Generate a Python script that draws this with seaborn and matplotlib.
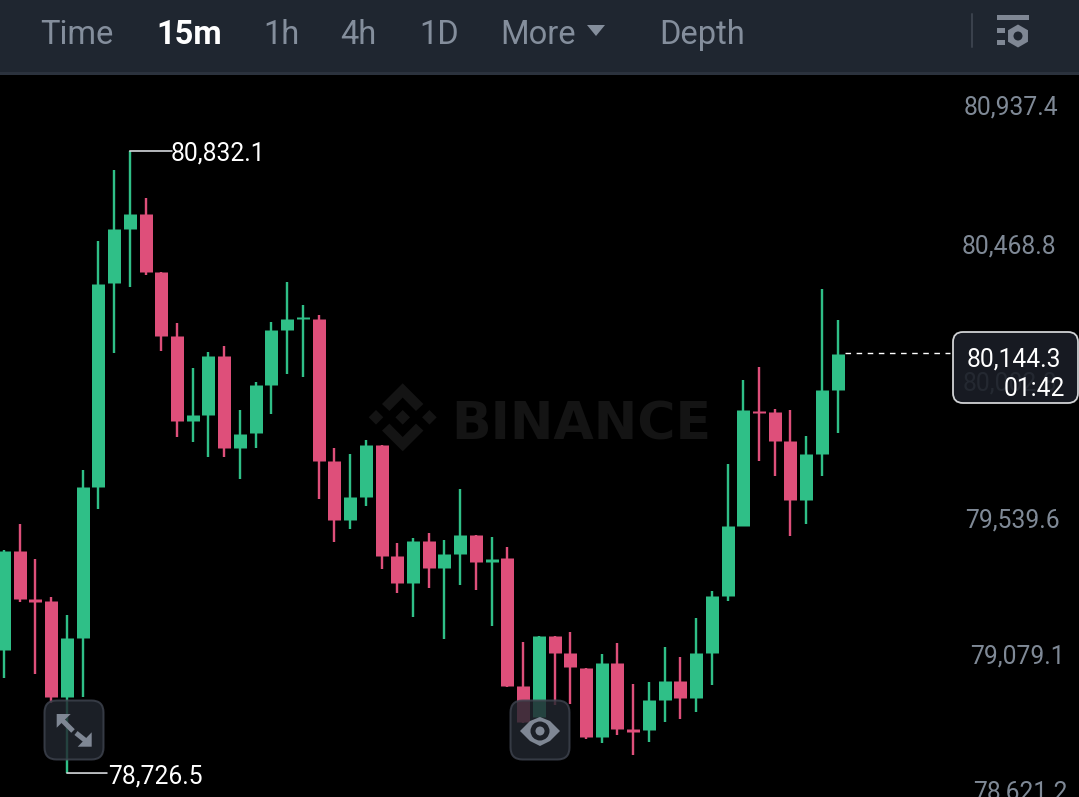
import numpy as np
import pandas as pd
import seaborn as sns
import matplotlib.pyplot as plt
from matplotlib.patches import FancyBboxPatch, Polygon, Rectangle, Circle, RegularPolygon

# ====================== data ======================
opens = [79144, 79479, 79315, 79308, 78983, 79184, 79694, 80384, 80567, 80618,
         80423, 80206, 79919, 79939, 80138, 79826, 79876, 80040, 80226, 80264,
         80264, 79784, 79583, 79660, 79837, 79461, 79371, 79512, 79420, 79467,
         79533, 79441, 79453, 79021, 78917, 79191, 79134, 79082, 78849, 79098,
         78875, 78873, 78974, 79038, 78981, 79133, 79327, 79564, 79953, 79948,
         79850, 79651, 79806, 80023]
closes = [79479, 79316, 79306, 78985, 79184, 79694, 80382, 80567, 80618, 80423,
          80206, 79919, 79939, 80138, 79826, 79875, 80040, 80226, 80262, 80271,
          79784, 79583, 79660, 79837, 79461, 79371, 79512, 79420, 79467, 79533,
          79440, 79452, 79021, 78900, 79191, 79134, 79084, 78849, 79098, 78875,
          78866, 78974, 79038, 78981, 79133, 79327, 79564, 79955, 79946, 79850,
          79651, 79806, 80023, 80144.3]
highs = [79482, 79570, 79452, 79323, 79261, 79752, 80527, 80768, 80832.1, 80672,
         80423, 80251, 80098, 80153, 80173, 79955, 80051, 80254, 80388, 80311,
         80277, 79826, 79806, 79854, 79837, 79504, 79521, 79540, 79514, 79687,
         79533, 79526, 79492, 79170, 79191, 79191, 79203, 79082, 79128, 79166,
         79029, 79034, 79153, 79118, 79250, 79343, 79773, 80057, 80100, 79958,
         79955, 79868, 80365, 80260]
lows = [79049, 79305, 79062, 78964, 78726.5, 78985, 79620, 80147, 80373, 80413,
        80155, 79863, 79848, 79795, 79797, 79721, 79828, 79942, 80077, 80066,
        79655, 79509, 79553, 79630, 79417, 79335, 79255, 79354, 79181, 79362,
        79347, 79224, 79018, 78896, 78900, 78957, 78960, 78843, 78829, 78856,
        78788, 78832, 78898, 78909, 78933, 79023, 79310, 79564, 79784, 79732,
        79530, 79570, 79732, 79876]
axis_prices = [80937.4, 80468.8, 80002.8, 79539.6, 79079.1, 78621.2]
axis_labels = ["80,937.4", "80,468.8", "80,002.8", "79,539.6", "79,079.1", "78,621.2"]
tabs = ["Time", "15m", "1h", "4h", "1D", "More", "Depth"]
last_price = "80,144.3"
countdown = "01:42"

# ====================== style ======================
GREEN = "#2FBF87"
RED = "#DE4F7A"
GREY = "#848E9C"
TOOLBAR = "#1F2630"
LABEL_SIZE = 17.7

sns.set_theme(style="dark", rc={"axes.facecolor": "black", "figure.facecolor": "black"})
plt.rcParams["font.family"] = ["Roboto", "DejaVu Sans"]

df = pd.DataFrame({"i": np.arange(len(opens)), "open": opens, "close": closes,
                   "high": highs, "low": lows})
df["side"] = np.where(df["close"] >= df["open"], "up", "down")
wicks = df.melt(id_vars=["i", "side"], value_vars=["high", "low"], value_name="price")
bodies = df.melt(id_vars=["i", "side"], value_vars=["open", "close"], value_name="price")

fig = plt.figure(figsize=(10.79, 7.97), dpi=100)
ax = fig.add_axes([0, 0, 1, 1])
px = 0.72  # points per pixel at this dpi
palette = {"up": GREEN, "down": RED}

# watermark sits behind the candles, so the overlay is split in two
back = fig.add_axes([0, 0, 1, 1], zorder=0)
back.set_xlim(0, 1079)
back.set_ylim(797, 0)
back.axis("off")
ax.set_zorder(1)
ax.patch.set_alpha(0)

WM = "#141414"
fig.patch.set_facecolor("black")
back.text(581, 425, "BINANCE", color=WM, fontsize=37.5, fontweight="bold",
          family="DejaVu Sans", ha="center", va="center")
cx, cy = 402.7, 417.3
for dx in (-26.7, 0, 26.7):
    back.add_patch(Polygon([(cx + dx - 7.3, cy), (cx + dx, cy - 7.3),
                            (cx + dx + 7.3, cy), (cx + dx, cy + 7.3)], color=WM, lw=0))
chevron = [(0, 34), (20.7, 13.3), (13.3, 6.3), (0, 19.7), (-13.3, 6.3), (-20.7, 13.3)]
for sign in (-1, 1):
    back.add_patch(Polygon([(cx + a, cy + sign * b) for a, b in chevron], color=WM, lw=0))

# ====================== candles ======================
sns.lineplot(data=wicks, x="i", y="price", hue="side", units="i", estimator=None,
             palette=palette, linewidth=2.4 * px, legend=False, ax=ax,
             solid_capstyle="butt")
sns.lineplot(data=bodies, x="i", y="price", hue="side", units="i", estimator=None,
             palette=palette, linewidth=13 * px, legend=False, ax=ax,
             solid_capstyle="butt")

step = 15.73
ax.set_xlim(-4.0 / step, (1079 - 4.0) / step)
ax.set_ylim(78645.4, 81343.2)
ax.set_xticks([])
ax.set_yticks([])
ax.set_xlabel("")
ax.set_ylabel("")
sns.despine(ax=ax, left=True, bottom=True)

# ====================== axis price labels ======================
label_left = [964, 962, 963, 965, 970, 973]
trans = ax.get_yaxis_transform()
for price, text, left in zip(axis_prices, axis_labels, label_left):
    ax.annotate(text, xy=(left / 1079, price), xycoords=trans, xytext=(0, 12 * px),
                textcoords="offset points", color="#7F8996", fontsize=LABEL_SIZE,
                ha="left", va="center", annotation_clip=False, zorder=1)

# ====================== high / low markers ======================
hi = int(np.argmax(highs))
lo = int(np.argmin(lows))
ax.annotate("", xy=(hi, highs[hi]), xytext=(42 * px, 0), textcoords="offset points", xycoords="data",
            arrowprops=dict(arrowstyle="-", color="#D5D8DC", lw=1.2, shrinkA=0, shrinkB=0), zorder=6)
ax.annotate("80,832.1", xy=(hi, highs[hi]), xytext=(41 * px, -3 * px), textcoords="offset points",
            color="white", fontsize=LABEL_SIZE, va="center", ha="left", zorder=6)
ax.annotate("", xy=(lo, lows[lo]), xytext=(40 * px, 0), textcoords="offset points", xycoords="data",
            arrowprops=dict(arrowstyle="-", color="#D5D8DC", lw=1.2, shrinkA=0, shrinkB=0), zorder=6)
ax.annotate("78,726.5", xy=(lo, lows[lo]), xytext=(41 * px, -3 * px), textcoords="offset points",
            color="white", fontsize=LABEL_SIZE, va="center", ha="left", zorder=6)

# dashed line out to the price box
ax.plot([len(opens) - 1 + 0.45, (950 - 4.0) / step], [closes[-1] + 3, closes[-1] + 3], color="white",
        lw=1, dashes=(4, 4), zorder=3)

# ====================== overlay: toolbar, buttons, price box ======================
top = fig.add_axes([0, 0, 1, 1], zorder=5)
top.set_xlim(0, 1079)
top.set_ylim(797, 0)
top.axis("off")
top.patch.set_alpha(0)

top.add_patch(Rectangle((0, 0), 1079, 72, color=TOOLBAR, lw=0))
top.add_patch(Rectangle((0, 72), 1079, 3, color="#2B323D", lw=0))
tab_left = [40, 156, 263, 340, 419, 500, 659]
for name, left in zip(tabs, tab_left):
    on = name == "15m"
    top.text(left, 35, name, color="white" if on else GREY, fontsize=23.5,
             fontweight="bold" if on else "normal", ha="left", va="center")
top.add_patch(Polygon([(587, 25), (605, 25), (596, 36)], color=GREY, lw=0))

# settings icon
top.plot([972, 972], [14, 47], color="#3A414C", lw=2 * px)
ICON = "#7F8794"
top.add_patch(Rectangle((997, 15), 32, 5, color=ICON, lw=0))
top.add_patch(Rectangle((997, 28), 8, 4.5, color=ICON, lw=0))
top.add_patch(Rectangle((997, 39.5), 8, 5, color=ICON, lw=0))
top.add_patch(RegularPolygon((1018, 36), 6, radius=11.5, color=ICON, lw=0))
top.add_patch(Circle((1018, 36), 4.5, color=TOOLBAR, lw=0))

# price box
top.add_patch(FancyBboxPatch((953 + 9, 332 + 9), 125 - 18, 71 - 18, boxstyle="round,pad=9,rounding_size=10",
                             fc="#1A1E26", ec="#E6E8EA", lw=1.3, alpha=0.9))
top.text(1014, 359, last_price, color="white", fontsize=LABEL_SIZE, ha="center", va="center")
top.text(1065, 389, countdown, color="white", fontsize=LABEL_SIZE, ha="right", va="center")

# zoom + eye buttons
for left in (44.5, 510.5):
    top.add_patch(FancyBboxPatch((left + 12, 700.5 + 12), 59 - 24, 59 - 24, boxstyle="round,pad=12,rounding_size=12",
                                 fc="#22272F", ec="#3F444F", lw=2 * px, alpha=0.82))
top.add_patch(Polygon([(56.7, 714), (70.7, 714), (56.7, 727.7)], color=ICON, lw=0))
top.add_patch(Polygon([(91.7, 746.7), (91.7, 732.3), (77.7, 746.7)], color=ICON, lw=0))
top.plot([62, 73], [720, 731], color=ICON, lw=5 * px, solid_capstyle="butt")
top.plot([86, 76], [741, 733], color=ICON, lw=5 * px, solid_capstyle="butt")

top.add_patch(Polygon([(520, 731), (530, 721), (540, 717), (550, 721), (560, 731),
                       (550, 741), (540, 746), (530, 741)], color=ICON, lw=0))
top.add_patch(Circle((540, 731), 9.5, color="#1C2027", lw=0))
top.add_patch(Circle((540, 731), 4.5, color=ICON, lw=0))

fig.savefig("out.png", dpi=100, facecolor="black")
plt.close(fig)
